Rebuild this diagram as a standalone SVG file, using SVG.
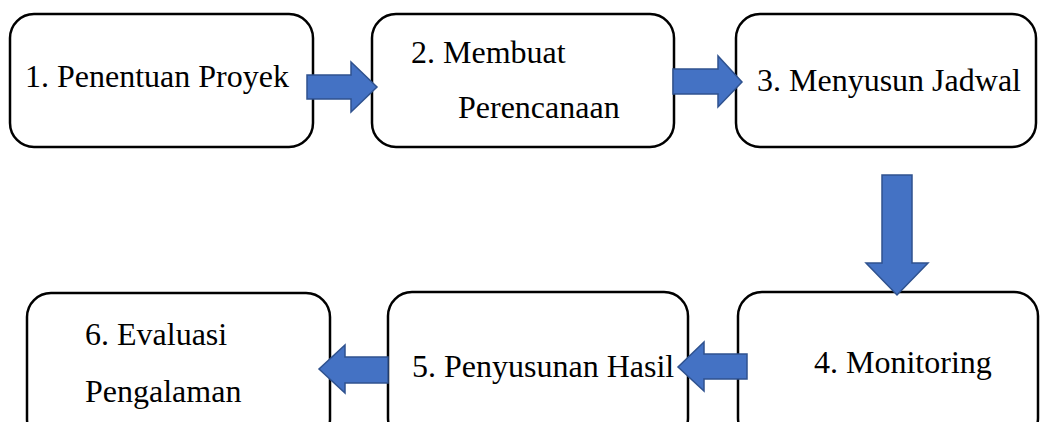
<svg xmlns="http://www.w3.org/2000/svg" width="1044" height="422" viewBox="0 0 1044 422">
<style>
.box{fill:#fff;stroke:#000;stroke-width:2.5}
.t{font-family:"Liberation Serif","Times New Roman",serif;font-size:32px;fill:#000}
.arr{fill:#4472C4;stroke:#2F528F;stroke-width:1.5;stroke-linejoin:miter}
</style>
<rect width="1044" height="422" fill="#fff"/>
<g id="n1"><rect class="box" x="10" y="14" width="303" height="133" rx="24"/><text class="t" x="25" y="87">1. Penentuan Proyek</text></g>
<g id="n2"><rect class="box" x="372" y="14" width="302" height="133" rx="24"/><text class="t" x="411" y="63">2. Membuat</text><text class="t" x="458" y="118">Perencanaan</text></g>
<g id="n3"><rect class="box" x="736" y="14" width="300" height="133" rx="24"/><text class="t" x="757" y="91">3. Menyusun Jadwal</text></g>
<g id="n4"><rect class="box" x="738" y="292" width="300" height="150" rx="24"/><text class="t" x="814" y="373">4. Monitoring</text></g>
<g id="n5"><rect class="box" x="388" y="292" width="300" height="150" rx="24"/><text class="t" x="412" y="377">5. Penyusunan Hasil</text></g>
<g id="n6"><rect class="box" x="27" y="293" width="303" height="150" rx="24"/><text class="t" x="85" y="345">6. Evaluasi</text><text class="t" x="85" y="402">Pengalaman</text></g>
<g id="connectors">
<polygon class="arr" points="307,75 351,75 351,62 377,87 351,112 351,99 307,99"/>
<polygon class="arr" points="673,69 718,69 718,56 742,82 718,107 718,94 673,94"/>
<polygon class="arr" points="882,175 912,175 912,263 928,263 897,295 866,263 882,263"/>
<polygon class="arr" points="747,354 704,354 704,342 678,367 704,391 704,379 747,379"/>
<polygon class="arr" points="388,357 345,357 345,345 319,369 345,393 345,383 388,383"/>
</g>
</svg>
